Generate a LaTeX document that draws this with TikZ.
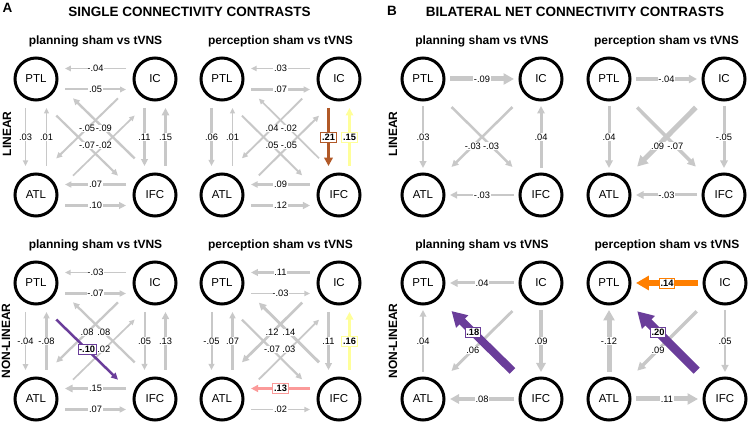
\documentclass[tikz,border=0pt]{standalone}
\usepackage{fontspec}
\setmainfont{Liberation Sans}
\usetikzlibrary{arrows.meta, calc}

\tikzset{
  roi/.style={circle, draw, line width=3pt, minimum size=42pt, inner sep=0pt, font=\fontsize{11.5}{13}\selectfont},
  link/.style={draw=edgegrey, line width=2pt, -{Triangle[length=3pt 1.5, width=2pt 1.8]}},
  lab/.style={fill=white, inner sep=0.6pt, font=\fontsize{9.3}{10}\selectfont},
  hl/.style={draw=#1, line width=0.8pt, inner xsep=1.2pt, inner ysep=1.8pt, font=\bfseries\fontsize{9.3}{10}\selectfont},
  ptitle/.style={font=\bfseries\fontsize{12}{14}\selectfont},
  stitle/.style={font=\bfseries\fontsize{13.5}{16}\selectfont}
}

% edge between two rois: gap from the centres \egap, shifted to the right by \eoff
\newcommand{\conn}[5][]{%
  \draw[link,#1] ($(#2)!\egap!(#3)!\eoff!-90:(#3)$) -- node[lab,#4]{#5} ($(#3)!\egap!(#2)!\eoff!90:(#2)$);%
}

\begin{document}
\begin{tikzpicture}[x=1pt, y=-1pt]

%colours
\definecolor{edgegrey}{RGB}{200,200,200}
\definecolor{brownc}{HTML}{B15928}
\definecolor{yellowc}{HTML}{FFFF99}
\definecolor{purplec}{HTML}{6A3D9A}
\definecolor{pinkc}{HTML}{FB9A99}
\definecolor{orangec}{HTML}{FF7F00}

\useasboundingbox (0,0) rectangle (753,427);

%headings
  \node[stitle] (la) at (7.5,8) {A};
  \node[stitle] (lb) at (392,11) {B};
  \node[stitle] (ha) at (189.5,12) {SINGLE CONNECTIVITY CONTRASTS};
  \node[stitle] (hb) at (575,12) {BILATERAL NET CONNECTIVITY CONTRASTS};
  \node[ptitle, rotate=90] (ra) at (7,134) {LINEAR};
  \node[ptitle, rotate=90] (rb) at (393,134) {LINEAR};
  \node[ptitle, rotate=90] (rc) at (6,341) {NON-LINEAR};
  \node[ptitle, rotate=90] (rd) at (393,341) {NON-LINEAR};

%rois
  \foreach \k/\x/\y/\dx/\ttl in {1/36/79/119/planning, 2/222/79/117/perception,
      3/423/79/118/planning, 4/609/79/115/perception, 5/36/283/119/planning,
      6/222/283/117/perception, 7/423/283/118/planning, 8/609/283/116/perception}{
    \node[roi] (p\k) at (\x,\y) {PTL};
    \node[roi] (i\k) at (\x+\dx,\y) {IC};
    \node[roi] (a\k) at (\x,\y+116) {ATL};
    \node[roi] (f\k) at (\x+\dx,\y+116) {IFC};
    \node[ptitle] (t\k) at (\x+\dx/2,\y-38) {\ttl\ sham vs tVNS};
  }

%single connectivity: sides
  \def\egap{29pt}\def\eoff{10.5pt}
  % planning, linear
  \conn[line width=1.9pt]{i1}{p1}{}{-.04}
  \conn[line width=2pt]{p1}{i1}{}{.05}
  \conn[line width=2.2pt]{f1}{a1}{}{.07}
  \conn[line width=2.6pt]{a1}{f1}{}{.10}
  \conn[line width=1.8pt]{p1}{a1}{}{.03}
  \conn[line width=1.6pt]{a1}{p1}{}{.01}
  \conn[line width=2.6pt]{i1}{f1}{}{.11}
  \conn[line width=3pt]{f1}{i1}{}{.15}
  % perception, linear
  \conn[line width=1.8pt]{i2}{p2}{}{.03}
  \conn[line width=2.2pt]{p2}{i2}{}{.07}
  \conn[line width=2.4pt]{f2}{a2}{}{.09}
  \conn[line width=2.7pt]{a2}{f2}{}{.12}
  \conn[line width=2.1pt]{p2}{a2}{}{.06}
  \conn[line width=1.6pt]{a2}{p2}{}{.01}
  \conn[draw=brownc, line width=3.6pt]{i2}{f2}{hl=brownc}{.21}
  \conn[draw=yellowc, line width=3pt]{f2}{i2}{hl=yellowc}{.15}
  % planning, non-linear
  \conn[line width=1.8pt]{i5}{p5}{}{-.03}
  \conn[line width=2.2pt]{p5}{i5}{}{-.07}
  \conn[line width=3pt]{f5}{a5}{}{.15}
  \conn[line width=2.2pt]{a5}{f5}{}{.07}
  \conn[line width=1.9pt]{p5}{a5}{}{-.04}
  \conn[line width=2.3pt]{a5}{p5}{}{-.08}
  \conn[line width=2pt]{i5}{f5}{}{.05}
  \conn[line width=2.8pt]{f5}{i5}{}{.13}
  % perception, non-linear
  \conn[line width=2.6pt]{i6}{p6}{}{.11}
  \conn[line width=1.8pt]{p6}{i6}{}{-.03}
  \conn[line width=1.7pt]{a6}{f6}{}{.02}
  \conn[draw=pinkc, line width=2.8pt]{f6}{a6}{hl=pinkc}{.13}
  \conn[line width=2pt]{p6}{a6}{}{-.05}
  \conn[line width=2.2pt]{a6}{p6}{}{.07}
  \conn[line width=2.6pt]{i6}{f6}{}{.11}
  \conn[draw=yellowc, line width=3.1pt]{f6}{i6}{hl=yellowc}{.16}

%single connectivity: diagonals
  \def\egap{40pt}\def\eoff{12pt}
  \conn[line width=2pt]{i1}{a1}{}{-.05}
  \conn[line width=2.4pt]{f1}{p1}{}{-.09}
  \conn[line width=2.2pt]{p1}{f1}{}{-.07}
  \conn[line width=1.7pt]{a1}{i1}{}{-.02}
  \conn[line width=1.9pt]{i2}{a2}{}{.04}
  \conn[line width=1.7pt]{f2}{p2}{}{-.02}
  \conn[line width=2pt]{p2}{f2}{}{.05}
  \conn[line width=2pt]{a2}{i2}{}{-.05}
  \conn[line width=2.3pt]{i5}{a5}{}{.08}
  \conn[line width=2.3pt]{f5}{p5}{}{.08}
  \conn[line width=1.7pt]{a5}{i5}{}{.02}
  \conn[draw=purplec, line width=2.5pt]{p5}{f5}{hl=purplec}{-.10}
  \conn[line width=2.7pt]{i6}{a6}{}{.12}
  \conn[line width=2.9pt]{f6}{p6}{}{.14}
  \conn[line width=2.2pt]{p6}{f6}{}{-.07}
  \conn[line width=1.8pt]{a6}{i6}{}{.03}

%bilateral net connectivity: sides
  \def\egap{27pt}\def\eoff{0pt}
  \conn[line width=5pt]{p3}{i3}{}{-.09}
  \conn[line width=2.5pt]{p3}{a3}{}{.03}
  \conn[line width=3pt]{f3}{i3}{}{.04}
  \conn[line width=2.7pt]{f3}{a3}{}{-.03}
  \conn[line width=3.5pt]{p4}{i4}{}{-.04}
  \conn[line width=3pt]{p4}{a4}{}{.04}
  \conn[line width=3pt]{i4}{f4}{}{-.05}
  \conn[line width=3pt]{f4}{a4}{}{-.03}
  \conn[line width=3pt]{i7}{p7}{}{.04}
  \conn[line width=2.5pt]{a7}{p7}{}{.04}
  \conn[line width=4pt]{i7}{f7}{}{.09}
  \conn[line width=4pt]{f7}{a7}{}{.08}
  \conn[draw=orangec, line width=6.5pt]{i8}{p8}{hl=orangec}{.14}
  \conn[line width=5pt]{a8}{p8}{}{-.12}
  \conn[line width=2.7pt]{i8}{f8}{}{.05}
  \conn[line width=5pt]{a8}{f8}{}{.11}

%bilateral net connectivity: diagonals
  \def\egap{40pt}
  \conn[line width=2.5pt]{i3}{a3}{pos=.65}{-.03}
  \conn[line width=2.5pt]{p3}{f3}{pos=.65}{-.03}
  \conn[line width=5pt]{i4}{a4}{pos=.65}{.09}
  \conn[line width=3.5pt]{p4}{f4}{pos=.65}{-.07}
  \conn[line width=2.8pt]{i7}{a7}{pos=.65}{.06}
  \conn[draw=purplec, line width=8pt]{f7}{p7}{pos=.65, hl=purplec}{.18}
  \conn[line width=3.5pt]{i8}{a8}{pos=.65}{.09}
  \conn[draw=purplec, line width=8.5pt]{f8}{p8}{pos=.65, hl=purplec}{.20}
\end{tikzpicture}
\end{document}
